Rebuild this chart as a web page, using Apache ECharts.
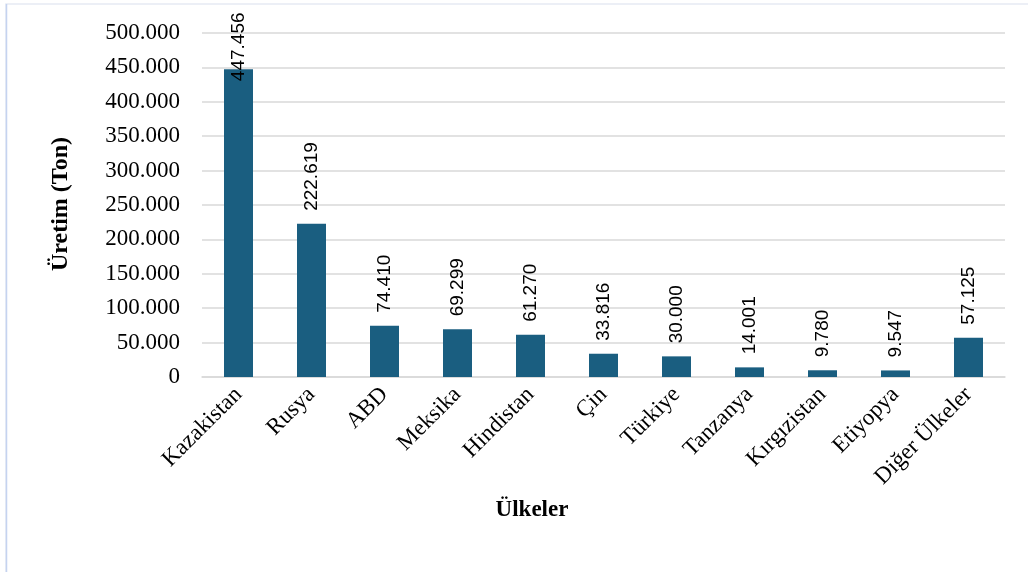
<!DOCTYPE html>
<html>
<head>
<meta charset="utf-8">
<script src="https://cdn.jsdelivr.net/npm/echarts@6/dist/echarts.min.js"></script>
<style>
  html, body { margin: 0; padding: 0; background: #fff; }
  #chart { width: 1028px; height: 572px; }
</style>
</head>
<body>
<div id="chart"></div>
<script>
const countries = ['Kazakistan', 'Rusya', 'ABD', 'Meksika', 'Hindistan', 'Çin', 'Türkiye', 'Tanzanya', 'Kırgızistan', 'Etiyopya', 'Diğer Ülkeler'];
const production = [447456, 222619, 74410, 69299, 61270, 33816, 30000, 14001, 9780, 9547, 57125];
const xTitle = 'Ülkeler';
const yTitle = 'Üretim (Ton)';

// 1234567 -> "1.234.567"
const dotted = (v) => String(Math.round(v)).replace(/\B(?=(\d{3})+(?!\d))/g, '.');

const chart = echarts.init(document.getElementById('chart'));

const barData = production.map((v, i) => {
  if (i === 0) {
    // the tallest label does not fit above the bar, it sits over its top
    return { value: v, label: { position: ['50%', 12] } };
  }
  return v;
});

const titleStyle = { fontFamily: 'Liberation Serif', fontWeight: 'bold', fill: '#000' };

const option = {
  animation: false,
  textStyle: { fontFamily: 'Liberation Serif' },
  grid: { left: 202, right: 23, top: 33, bottom: 195 },
  graphic: [
    {
      type: 'rect',
      shape: { x: 6, y: 4, width: 1040, height: 600 },
      style: { fill: 'none', stroke: '#e6eaf4', lineWidth: 1.5 },
    },
    {
      type: 'line',
      shape: { x1: 6.5, y1: 4, x2: 6.5, y2: 572 },
      style: { stroke: '#c5d3f0', lineWidth: 1.5 },
    },
    {
      type: 'text',
      x: 532,
      y: 510,
      style: { ...titleStyle, text: xTitle, fontSize: 23, align: 'center', verticalAlign: 'middle' },
    },
    {
      type: 'text',
      x: 61,
      y: 204,
      rotation: Math.PI / 2,
      style: { ...titleStyle, text: yTitle, fontSize: 24, align: 'center', verticalAlign: 'middle' },
    },
  ],
  xAxis: {
    type: 'category',
    data: countries,
    axisLine: { lineStyle: { color: '#d9d9d9', width: 1.5 } },
    axisTick: { show: false },
    axisLabel: {
      interval: 0,
      rotate: 45,
      margin: 14,
      fontFamily: 'Liberation Serif',
      fontSize: 23,
      color: '#000',
    },
  },
  yAxis: {
    type: 'value',
    min: 0,
    max: 500000,
    interval: 50000,
    axisLine: { show: false },
    axisTick: { show: false },
    axisLabel: {
      margin: 22,
      fontFamily: 'Liberation Serif',
      fontSize: 23,
      color: '#000',
      formatter: (v) => (v === 0 ? '0' : dotted(v)),
    },
    splitLine: { lineStyle: { color: '#d9d9d9', width: 1.5 } },
  },
  series: [
    {
      type: 'bar',
      data: barData,
      barWidth: 29,
      itemStyle: { color: '#1a5e80' },
      label: {
        show: true,
        position: 'top',
        distance: 13,
        rotate: 90,
        align: 'left',
        verticalAlign: 'middle',
        fontFamily: 'Liberation Sans',
        fontSize: 19,
        color: '#000',
        formatter: (p) => dotted(p.value),
      },
    },
  ],
};

chart.setOption(option);
</script>
</body>
</html>
